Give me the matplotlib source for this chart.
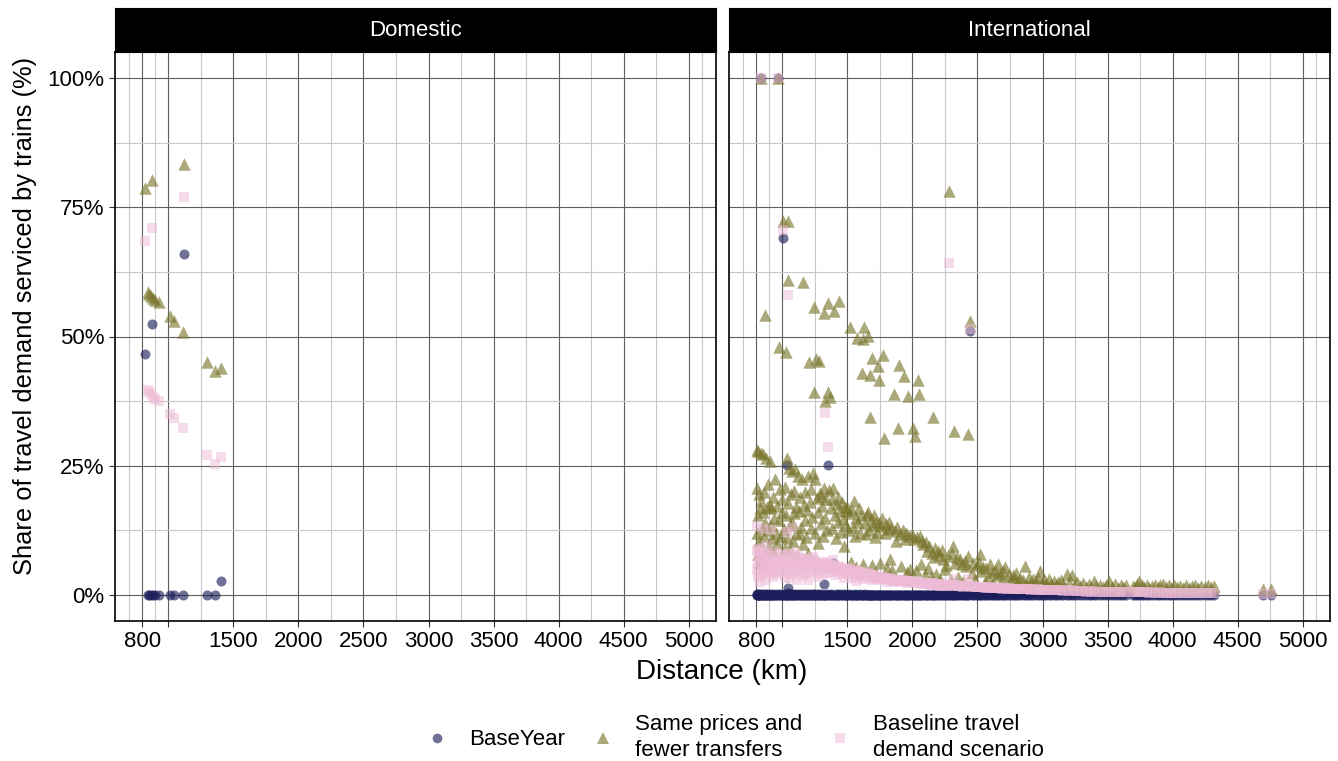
import matplotlib
matplotlib.use("Agg")
import matplotlib.pyplot as plt
from matplotlib.lines import Line2D
import numpy as np

plt.rcParams['font.family'] = ['Liberation Sans', 'DejaVu Sans']

panels = ["Domestic", "International"]
scenarios = ["BaseYear", "Same prices and\nfewer transfers", "Baseline travel\ndemand scenario"]

# domestic OD pairs: distance (km) and share of demand served by train (%)
dom_km = [821, 840, 852, 866, 876, 880, 898, 925, 1013, 1043, 1113, 1120, 1295, 1362, 1401]
dom_base = [46.6, 0, 0, 0, 52.5, 0, 0, 0, 0, 0, 0, 66.0, 0, 0, 2.8]
dom_fewer = [78.7, 58.6, 58.2, 57.8, 80.2, 57.4, 57.0, 56.6, 54.0, 53.0, 50.9, 83.4, 45.1, 43.4, 43.9]
dom_baseline = [68.5, 39.6, 39.3, 38.9, 71.0, 38.4, 37.9, 37.6, 35.0, 34.2, 32.3, 76.9, 27.0, 25.4, 26.7]

# international OD pairs
intl_km = [
    803, 806, 808, 810, 812, 815, 818, 821, 825, 829, 833, 835, 838, 842, 846,
    850, 854, 858, 862, 866, 870, 874, 877, 882, 887, 892, 897, 902, 906, 911,
    915, 920, 926, 932, 938, 944, 950, 956, 962, 969, 972, 976, 982, 988, 994,
    1000, 1007, 1012, 1018, 1022, 1026, 1030, 1033, 1037, 1040, 1042, 1046, 1050, 1056, 1062,
    1067, 1071, 1076, 1082, 1088, 1093, 1097, 1103, 1108, 1114, 1120, 1126, 1132, 1138, 1144,
    1150, 1156, 1161, 1166, 1172, 1178, 1184, 1190, 1195, 1199, 1205, 1211, 1217, 1223, 1229,
    1237, 1241, 1246, 1248, 1253, 1259, 1265, 1271, 1277, 1282, 1288, 1294, 1300, 1306, 1312,
    1318, 1323, 1326, 1331, 1337, 1343, 1349, 1353, 1358, 1366, 1372, 1378, 1385, 1392, 1399,
    1405, 1412, 1418, 1425, 1431, 1438, 1444, 1451, 1458, 1465, 1472, 1479, 1486, 1493,
    1500, 1507, 1513, 1520, 1527, 1534, 1541, 1548, 1556, 1563, 1570, 1576, 1583, 1590, 1597,
    1604, 1610, 1617, 1623, 1630, 1637, 1644, 1651, 1658, 1661, 1668, 1672, 1674, 1680, 1686,
    1692, 1699, 1706, 1713, 1720, 1727, 1733, 1740, 1745, 1752, 1760, 1768, 1776, 1784, 1791,
    1799, 1806, 1814, 1822, 1830, 1838, 1846, 1856, 1864, 1872, 1880, 1891, 1899, 1907, 1915,
    1924, 1935, 1944, 1953, 1961, 1968, 1976, 1985, 1993,
    2006, 2013, 2020, 2028, 2036, 2045, 2048, 2058, 2066, 2075, 2084, 2093, 2102, 2111, 2120,
    2130, 2140, 2148, 2156, 2166, 2175, 2185, 2195, 2205, 2215, 2226, 2237, 2248, 2259, 2270,
    2284, 2295, 2306, 2312, 2319, 2330, 2342, 2354, 2366, 2378, 2390, 2402, 2415, 2427, 2429,
    2442, 2455, 2468, 2481, 2494,
    2508, 2519, 2531, 2543, 2556, 2569, 2582, 2596, 2609, 2622, 2636, 2649, 2660, 2674, 2688,
    2700, 2712, 2726, 2740, 2755, 2770, 2785, 2800, 2815, 2830, 2848, 2865, 2880, 2895, 2912,
    2930, 2948, 2965, 2980, 2995,
    3012, 3030, 3048, 3066, 3085, 3104, 3122, 3140, 3160, 3185, 3205, 3225, 3245, 3268, 3290,
    3312, 3335, 3358, 3375, 3395, 3415, 3440, 3462, 3485, 3510, 3532, 3555, 3578, 3600, 3622,
    3645,
    3692, 3710, 3728, 3745, 3762, 3780, 3800, 3818, 3840, 3862, 3885, 3905, 3925, 3948, 3970,
    3990, 4012, 4035, 4058, 4080, 4100, 4125, 4150, 4172, 4195, 4222, 4250, 4272, 4295, 4318,
    4697, 4754,
]
intl_base = [
    0.2, 0.0, 0.1, 0.0, 0.3, 0.0, 0.1, 0.0, 0.2, 0.0, 100, 0.0, 0.1, 0.0, 0.2,
    0.0, 6.0, 0.1, 0.0, 0.3, 0.0, 0.1, 0.0, 0.2, 0.0, 0.1, 0.0, 0.0, 0.2, 0.0,
    0.1, 0.0, 0.2, 0.0, 0.1, 0.0, 0.0, 0.2, 0.0, 100, 0.1, 0.0, 0.2, 0.0, 0.1,
    0.0, 69.1, 0.1, 0.0, 0.2, 0.0, 0.1, 25.1, 0.0, 0.5, 0.0, 1.3, 0.0, 0.2, 0.0,
    0.1, 0.0, 0.2, 0.0, 0.1, 0.0, 0.2, 0.0, 0.1, 0.0, 0.2, 0.0, 0.1, 0.0, 0.2,
    0.0, 0.1, 0.0, 0.2, 0.0, 0.1, 0.0, 0.2, 0.0, 0.1, 0.0, 0.2, 0.0, 0.1, 0.0,
    0.2, 0.0, 0.1, 0.0, 0.2, 0.0, 0.1, 0.0, 0.2, 0.0, 0.1, 0.0, 0.2, 0.0, 0.1,
    0.0, 2.1, 0.0, 0.1, 0.0, 0.2, 25.2, 0.0, 0.1, 0.0, 0.2, 0.0, 0.1, 6.3, 0.0,
    0.1, 0.0, 0.2, 0.0, 0.1, 0.0, 0.2, 0.0, 0.1, 0.0, 0.2, 0.0, 0.1, 0.0,
    0.1, 0.0, 0.2, 0.0, 0.1, 0.0, 0.1, 0.0, 0.2, 0.0, 0.1, 0.0, 0.1, 0.0, 0.2,
    0.0, 0.1, 0.0, 0.1, 0.0, 0.2, 0.0, 0.1, 0.0, 0.1, 0.0, 0.1, 0.0, 0.1, 0.0,
    0.1, 0.0, 0.1, 0.0, 0.1, 0.0, 0.1, 0.0, 0.1, 0.0, 0.1, 0.0, 0.1, 0.0, 0.1,
    0.0, 0.1, 0.0, 0.1, 0.0, 0.1, 0.0, 0.1, 0.0, 0.1, 0.0, 0.1, 0.0, 0.1, 0.0,
    0.1, 0.0, 0.1, 0.0, 0.1, 0.0, 0.1, 0.0, 0.1,
    0.1, 0.0, 0.1, 0.0, 0.1, 0.0, 0.1, 0.0, 0.1, 0.0, 0.1, 0.0, 0.1, 0.0, 0.1,
    0.0, 0.1, 0.0, 0.1, 0.0, 0.1, 0.0, 0.1, 0.0, 0.1, 0.0, 0.1, 0.0, 0.1, 0.0,
    0.0, 0.1, 0.0, 0.1, 0.0, 0.1, 0.0, 0.1, 0.0, 0.1, 0.0, 0.1, 0.0, 0.1, 0.0,
    51.1, 0.0, 0.1, 0.0, 0.1,
    0.0, 0.1, 0.0, 0.1, 0.0, 0.1, 0.0, 0.1, 0.0, 0.1, 0.0, 0.1, 0.0, 0.1, 0.0,
    0.1, 0.0, 0.1, 0.0, 0.1, 0.0, 0.1, 0.0, 0.1, 0.0, 0.1, 0.0, 0.1, 0.0, 0.1,
    0.0, 0.1, 0.0, 0.1, 0.0,
    0.1, 0.0, 0.1, 0.0, 0.1, 0.0, 0.1, 0.0, 0.1, 0.0, 0.1, 0.0, 0.1, 0.0, 0.1,
    0.0, 0.1, 0.0, 0.1, 0.0, 0.1, 0.0, 0.1, 0.0, 0.1, 0.0, 0.1, 0.0, 0.1, 0.0,
    0.1,
    0.0, 0.1, 0.0, 0.1, 0.0, 0.1, 0.0, 0.1, 0.0, 0.1, 0.0, 0.1, 0.0, 0.1, 0.0,
    0.1, 0.0, 0.1, 0.0, 0.1, 0.0, 0.1, 0.0, 0.1, 0.0, 0.1, 0.0, 0.1, 0.0, 0.1,
    0.0, 0.0,
]
intl_fewer = [
    20.7, 12.0, 28.1, 15.5, 8.0, 27.8, 19.5, 10.5, 16.8, 6.5, 100, 27.4, 18.2, 13.0, 9.0,
    27.2, 16.0, 11.5, 20.0, 54.1, 14.0, 7.5, 26.6, 17.0, 12.5, 21.5, 9.5, 26.0, 17.5, 13.5,
    16.8, 11.0, 19.0, 8.5, 15.0, 22.5, 12.0, 17.2, 10.0, 100, 47.9, 14.6, 20.5, 11.4, 16.0,
    18.5, 72.3, 12.8, 21.0, 9.2, 47.0, 15.5, 26.5, 11.0, 61.0, 72.4, 17.8, 24.5, 13.6, 8.8,
    19.5, 24.0, 14.2, 10.5, 20.2, 15.8, 24.3, 12.0, 17.0, 7.5, 23.0, 16.2, 11.8, 19.0, 13.2,
    22.5, 9.8, 60.6, 17.5, 14.5, 20.0, 11.2, 16.5, 8.2, 23.0, 45.0, 18.0, 13.0, 20.5, 15.2,
    23.6, 55.7, 39.2, 22.4, 12.0, 45.6, 18.8, 16.0, 10.0, 45.3, 19.8, 14.0, 19.2, 17.2, 11.5,
    20.8, 54.6, 37.6, 15.0, 18.5, 12.5, 39.3, 56.5, 20.4, 38.4, 16.8, 13.0, 18.6, 20.7, 54.9,
    15.5, 11.0, 17.6, 14.2, 19.0, 56.8, 16.2, 12.2, 18.0, 14.8, 9.5, 17.0, 13.5, 16.4,
    17.0, 12.5, 15.8, 51.8, 6.5, 16.5, 13.2, 18.2, 11.5, 15.0, 5.5, 49.8, 14.2, 16.8, 12.0,
    15.5, 43.0, 6.0, 49.6, 51.8, 14.0, 11.8, 15.6, 16.0, 50.1, 12.6, 34.5, 42.5, 14.8, 5.8,
    45.9, 13.5, 15.4, 11.2, 14.2, 12.2, 44.3, 14.0, 41.6, 6.2, 13.4, 15.0, 46.4, 30.3, 12.0,
    13.8, 5.2, 12.8, 14.2, 7.0, 13.0, 4.8, 38.9, 12.4, 10.5, 13.2, 32.4, 44.4, 11.8, 5.6,
    12.6, 42.4, 10.8, 12.0, 4.5, 38.5, 11.5, 5.0, 11.8,
    32.4, 10.8, 30.7, 4.8, 11.2, 41.6, 38.9, 11.4, 6.0, 10.5, 9.8, 3.8, 10.2, 8.6, 5.2,
    9.5, 3.5, 8.2, 34.4, 7.4, 9.2, 4.0, 8.5, 7.8, 3.2, 8.8, 7.0, 5.0, 5.8, 7.6,
    78.2, 3.0, 8.2, 9.5, 31.8, 6.2, 7.4, 3.6, 7.0, 6.0, 2.8, 6.6, 5.6, 7.6, 31.2,
    53.0, 4.2, 6.2, 3.0, 5.8,
    6.4, 7.9, 4.6, 5.5, 2.6, 5.2, 3.6, 6.0, 4.4, 2.4, 4.8, 3.8, 6.1, 4.2, 3.0,
    4.6, 5.5, 2.2, 4.0, 2.8, 3.8, 3.2, 4.2, 2.6, 3.4, 3.0, 5.6, 2.0, 3.6, 2.4,
    3.2, 2.7, 3.4, 4.6, 2.5,
    3.0, 2.4, 3.2, 2.2, 2.8, 2.0, 2.6, 3.0, 2.2, 4.0, 2.4, 3.8, 2.0, 2.5, 1.8,
    2.3, 1.6, 2.1, 1.5, 2.8, 1.7, 2.0, 1.5, 1.9, 2.8, 1.6, 2.2, 1.4, 2.0, 1.5,
    1.9,
    1.8, 1.5, 2.2, 2.8, 2.0, 1.6, 2.0, 1.4, 1.8, 2.0, 1.5, 1.9, 2.1, 1.6, 2.0,
    1.4, 1.9, 1.5, 1.8, 1.3, 1.9, 1.4, 1.7, 1.9, 1.4, 1.8, 1.6, 1.9, 1.5, 1.7,
    1.2, 1.1,
]
intl_baseline = [
    8.5, 5.0, 13.3, 6.2, 3.5, 9.0, 7.8, 4.2, 6.8, 2.6, 100, 8.8, 7.4, 5.5, 3.8,
    12.8, 7.2, 4.6, 8.2, 6.0, 5.8, 3.0, 9.5, 6.4, 5.1, 8.0, 4.0, 7.6, 6.6, 5.3,
    12.5, 4.4, 7.0, 3.6, 6.0, 8.4, 4.8, 6.5, 4.1, 100, 7.0, 5.6, 7.7, 4.5, 6.1,
    6.8, 70.5, 5.0, 7.5, 3.4, 6.2, 5.8, 12.2, 4.3, 58.0, 8.0, 6.6, 7.9, 5.2, 3.3,
    6.9, 12.9, 5.4, 4.0, 7.1, 5.9, 8.2, 4.6, 6.3, 2.9, 7.6, 6.0, 4.5, 6.7, 5.0,
    7.2, 3.7, 6.4, 6.1, 5.2, 6.9, 4.1, 5.8, 3.0, 7.0, 6.3, 6.2, 4.7, 6.6, 5.4,
    7.3, 6.8, 6.0, 6.5, 4.3, 6.1, 6.0, 5.5, 3.6, 5.9, 6.2, 4.9, 5.8, 5.6, 4.0,
    6.0, 6.4, 35.3, 5.0, 5.7, 4.2, 28.6, 6.2, 5.9, 5.8, 5.3, 4.4, 5.6, 6.8, 5.9,
    4.9, 3.8, 5.3, 4.6, 5.5, 5.7, 5.0, 4.0, 5.2, 4.7, 3.3, 5.0, 4.3, 4.8,
    5.0, 4.0, 4.6, 5.2, 3.4, 4.7, 4.1, 4.9, 3.6, 4.4, 2.8, 4.6, 4.2, 4.5, 3.7,
    4.3, 4.0, 3.2, 4.4, 4.1, 3.9, 3.4, 4.1, 4.0, 4.2, 3.5, 3.8, 3.9, 3.8, 2.9,
    3.7, 3.6, 3.8, 3.2, 3.6, 3.3, 3.5, 3.5, 3.4, 2.9, 3.4, 3.6, 3.3, 3.2, 3.1,
    3.3, 2.6, 3.2, 3.3, 2.9, 3.1, 2.5, 3.0, 3.0, 2.8, 3.0, 2.9, 3.0, 2.8, 2.6,
    2.9, 2.8, 2.7, 2.8, 2.3, 2.7, 2.7, 2.5, 2.6,
    2.6, 2.5, 2.6, 2.3, 2.5, 2.6, 2.4, 2.5, 2.2, 2.4, 2.3, 2.1, 2.4, 2.2, 2.3,
    2.0, 2.3, 2.2, 2.3, 2.1, 2.2, 1.9, 2.1, 2.0, 1.8, 2.1, 2.0, 2.0, 1.8, 2.0,
    64.2, 1.9, 1.9, 3.1, 1.9, 1.8, 1.9, 1.7, 1.8, 1.7, 1.6, 1.8, 1.7, 3.1, 1.7,
    51.5, 1.6, 1.7, 1.5, 1.6,
    1.6, 1.6, 1.5, 1.5, 1.4, 1.5, 1.4, 1.5, 1.4, 1.3, 1.4, 1.3, 1.4, 1.3, 1.2,
    1.3, 1.3, 1.2, 1.3, 1.2, 1.2, 1.2, 1.2, 1.1, 1.2, 1.1, 1.2, 1.1, 1.1, 1.0,
    1.1, 1.0, 1.1, 1.0, 1.0,
    1.0, 0.9, 1.0, 0.9, 0.9, 0.9, 0.9, 0.9, 0.8, 0.9, 0.8, 0.9, 0.8, 0.8, 0.8,
    0.8, 0.7, 0.8, 0.7, 0.8, 0.7, 0.7, 0.7, 0.7, 0.7, 0.7, 0.7, 0.6, 0.7, 0.6,
    0.6,
    0.7, 0.6, 0.7, 0.6, 0.6, 0.6, 0.6, 0.5, 0.6, 0.5, 0.5, 0.6, 0.5, 0.5, 0.5,
    0.5, 0.5, 0.5, 0.5, 0.4, 0.5, 0.4, 0.4, 0.5, 0.4, 0.4, 0.4, 0.4, 0.4, 0.4,
    0.3, 0.3,
]

x_major = [800, 1000, 1500, 2000, 2500, 3000, 3500, 4000, 4500, 5000]
x_labels = ["800", "", "1500", "2000", "2500", "3000", "3500", "4000", "4500", "5000"]
x_minor = [700, 900, 1250, 1750, 2250, 2750, 3250, 3750, 4250, 4750, 5100]
y_major = [0, 0.25, 0.5, 0.75, 1.0]
y_labels = ["0%", "25%", "50%", "75%", "100%"]
y_minor = [0.125, 0.375, 0.625, 0.875]

colors = ["#1b1e5a", "#7a752c", "#eebbd6"]
alphas = [0.63, 0.63, 0.5]
markers = ["o", "^", "s"]
sizes = [52, 80, 50]

fig = plt.figure(figsize=(13.38, 7.61), dpi=100)

data = {
    "Domestic": (dom_km, [dom_base, dom_fewer, dom_baseline]),
    "International": (intl_km, [intl_base, intl_fewer, intl_baseline]),
}
lefts = [115 / 1338, 729 / 1338]
width = 601 / 1338
bottom = 1 - 621 / 761
height = 569 / 761
strip_h = 44 / 761

for i, name in enumerate(panels):
    ax = fig.add_axes([lefts[i], bottom, width, height])
    km, series = data[name]
    for j in range(3):
        ax.scatter(km, np.array(series[j]) / 100, marker=markers[j], s=sizes[j],
                   color=colors[j], alpha=alphas[j], linewidths=0, zorder=3)
    ax.set_xlim(590, 5210)
    ax.set_ylim(-0.05, 1.05)
    ax.set_xticks(x_major)
    ax.set_xticklabels(x_labels)
    ax.set_xticks(x_minor, minor=True)
    ax.set_yticks(y_major)
    ax.set_yticks(y_minor, minor=True)
    if i == 0:
        ax.set_yticklabels(y_labels)
        ax.tick_params(axis="y", which="major", length=4, width=0.8, labelsize=16, colors="#333333", labelcolor="black")
    else:
        ax.tick_params(axis="y", which="major", length=0, labelleft=False)
    ax.tick_params(axis="x", which="major", length=4, width=0.8, labelsize=16, colors="#333333", labelcolor="black")
    ax.tick_params(which="minor", length=0)
    ax.grid(which="major", color="#5e5e5e", linewidth=0.8, zorder=0)
    ax.grid(which="minor", color="#c8c8c8", linewidth=0.8, zorder=0)
    ax.set_axisbelow(True)
    for sp in ax.spines.values():
        sp.set_color("black")
        sp.set_linewidth(1.2)

    sax = fig.add_axes([lefts[i], bottom + height, width, strip_h])
    sax.set_facecolor("black")
    sax.set_xticks([])
    sax.set_yticks([])
    for sp in sax.spines.values():
        sp.set_color("black")
    sax.text(0.5, 0.5, name, color="white", fontsize=16, ha="center", va="center",
             transform=sax.transAxes)

fig.text(722 / 1338, 1 - 672 / 761, "Distance (km)", fontsize=20, ha="center", va="center")
fig.text(25 / 1338, 1 - 316 / 761, "Share of travel demand serviced by trains (%)", fontsize=18.4,
         rotation=90, ha="center", va="center")

handles = [Line2D([], [], linestyle="none", marker=markers[j], markersize=7 if j != 1 else 8,
                  markerfacecolor=colors[j], markeredgewidth=0, alpha=alphas[j]) for j in range(3)]
leg = fig.legend(handles, scenarios, loc="center", bbox_to_anchor=(0.547, 0.031), ncol=3,
                 frameon=False, fontsize=16, handletextpad=0.7, columnspacing=0.95,
                 handlelength=1.5)
for t in leg.get_texts():
    t.set_linespacing(1.35)

fig.savefig("out.png", dpi=100)
